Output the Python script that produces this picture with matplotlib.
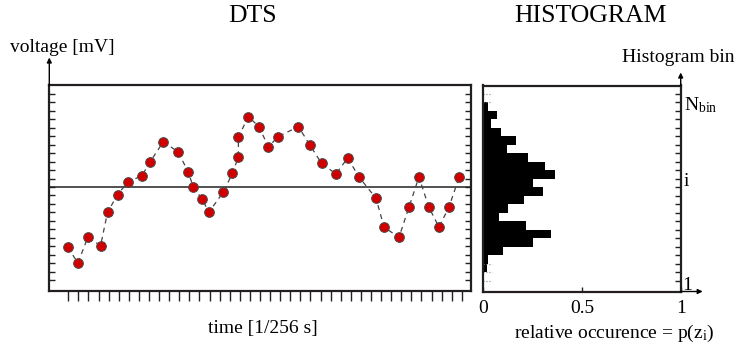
import matplotlib
matplotlib.use("Agg")
import matplotlib.pyplot as plt
import numpy as np

plt.rcParams['font.family'] = ['Liberation Serif', 'DejaVu Serif']
plt.rcParams['mathtext.fontset'] = 'custom'
plt.rcParams['mathtext.rm'] = 'Liberation Serif'
plt.rcParams['mathtext.it'] = 'Liberation Serif:italic'

# ---- data ----
# DTS samples (time in tick units, voltage in tick units around the mean)
time_pts = [-0.07, 0.96, 1.95, 3.2, 3.89, 4.88, 5.91, 7.3, 8.12, 9.41, 10.86, 11.88,
            12.38, 13.27, 13.93, 15.35, 16.27, 16.86, 16.86, 17.85, 18.88, 19.83,
            20.82, 22.8, 23.96, 25.1, 26.53, 27.69, 28.81, 30.5, 31.29, 32.77,
            33.76, 34.75, 35.74, 36.73, 37.72, 38.74]
voltage_pts = [-7.13, -8.95, -5.91, -6.94, -2.99, -0.91, 0.59, 1.34, 2.99, 5.32, 4.17,
               1.81, 0.0, -1.42, -2.99, -0.63, 1.62, 3.55, 5.91, 8.31, 7.13, 4.76,
               5.95, 7.13, 4.93, 2.78, 1.54, 3.43, 1.18, -1.34, -4.73, -5.95, -2.40,
               1.18, -2.40, -4.73, -2.40, 1.18]
time_ticks = list(range(40))
voltage_ticks = list(range(-11, 12))

# histogram: lower edge of each bin and its relative occurrence
bin_lower = list(range(10, -12, -1))
occurrence = [0.0, 0.025, 0.068, 0.037, 0.09, 0.164, 0.12, 0.228, 0.314, 0.365, 0.253,
              0.30, 0.204, 0.127, 0.08, 0.218, 0.341, 0.253, 0.101, 0.025, 0.017, 0.0]
faint_edges = [11, 10, -9, -10, -11]
hist_xticks = [0, 0.5, 1]
hist_xticklabels = ['0', '0.5', '1']

W, H = 736, 352
fig = plt.figure(figsize=(W / 100, H / 100), dpi=100)

def fbox(x0, y0, x1, y1):
    return [x0 / W, 1 - y1 / H, (x1 - x0) / W, (y1 - y0) / H]

spine_c = '#231f20'
FS = 14

# ---- DTS panel ----
ax = fig.add_axes(fbox(49.3, 85.5, 471, 291))
ax.set_xlim(-1.88, 39.91)
ax.set_ylim(-12.28, 11.98)
ax.axhline(0, color='#333333', lw=1.2, zorder=1)
ax.plot(time_pts, voltage_pts, ls=(0, (4, 3.5)), color='#444444', lw=0.9, zorder=2)
ax.plot(time_pts, voltage_pts, ls='none', marker='o', ms=7.0, mfc='#d00000',
        mec='#4a4a4a', mew=0.7, zorder=3)
for s in ax.spines.values():
    s.set_color(spine_c)
    s.set_linewidth(1.6)
ax.set_xticks(time_ticks)
ax.set_yticks(voltage_ticks)
ax.tick_params(axis='x', direction='out', length=7, width=1.0, color='#222222',
               labelbottom=False)
ax.tick_params(axis='y', direction='in', length=4, width=1.0, color='#222222',
               left=True, right=True, labelleft=False)
ax.annotate('', xy=(0, 1 + 28 / 205.5), xytext=(0, 1), xycoords='axes fraction',
            arrowprops=dict(arrowstyle='-|>', color='black', lw=1.0,
                            mutation_scale=7, shrinkA=0, shrinkB=0))

# ---- histogram panel ----
ax2 = fig.add_axes(fbox(483.3, 85.5, 680.7, 291.5))
ax2.set_xlim(0, 1)
ax2.set_ylim(-12.28, 11.98)
ax2.barh(bin_lower, occurrence, height=1, align='edge', color='black', lw=0)
ax2.hlines(faint_edges, 0, 0.045, colors='#888888', linestyles=':', lw=0.8)
for s in ax2.spines.values():
    s.set_color(spine_c)
    s.set_linewidth(1.6)
ax2.set_yticks(voltage_ticks)
ax2.tick_params(axis='y', direction='in', length=4, width=1.0, color='#222222',
                left=False, right=True, labelleft=False, labelright=False)
ax2.set_xticks(hist_xticks)
ax2.set_xticklabels(hist_xticklabels, fontsize=FS)
ax2.tick_params(axis='x', direction='in', length=3.5, width=1.0, color='#222222', pad=6)
ax2.annotate('', xy=(1, 1 + 13 / 206), xytext=(1, 1), xycoords='axes fraction',
             arrowprops=dict(arrowstyle='-|>', color='black', lw=1.0,
                             mutation_scale=7, shrinkA=0, shrinkB=0))
ax2.annotate('', xy=(1 + 22 / 197.4, 0), xytext=(1, 0), xycoords='axes fraction',
             arrowprops=dict(arrowstyle='-|>', color='black', lw=1.0,
                             mutation_scale=7, shrinkA=0, shrinkB=0))
tr = ax2.get_yaxis_transform()
ax2.text(1.015, 9.1, r'N$_{\mathrm{bin}}$', transform=tr, fontsize=FS, va='baseline',
         ha='left', clip_on=False)
ax2.text(1.015, 0.1, 'i', transform=tr, fontsize=FS, va='baseline', ha='left',
         clip_on=False)
ax2.text(1.01, -12.1, '1', transform=tr, fontsize=FS, va='baseline', ha='left',
         clip_on=False)

# ---- texts ----
fig.text(252.5 / W, 1 - 16 / H, 'DTS', fontsize=18.5, ha='center', va='center')
fig.text(590 / W, 1 - 16 / H, 'HISTOGRAM', fontsize=18.5, ha='center', va='center')
fig.text(10 / W, 1 - 47 / H, 'voltage [mV]', fontsize=FS, ha='left', va='center')
fig.text(735 / W, 1 - 57 / H, 'Histogram bin', fontsize=FS, ha='right', va='center')
fig.text(262.7 / W, 1 - 328 / H, 'time [1/256 s]', fontsize=FS, ha='center', va='center')
fig.text(614 / W, 1 - 333 / H, r'relative occurence = p(z$_{\mathrm{i}}$)', fontsize=FS,
         ha='center', va='center')

fig.savefig('out.png', dpi=100)
